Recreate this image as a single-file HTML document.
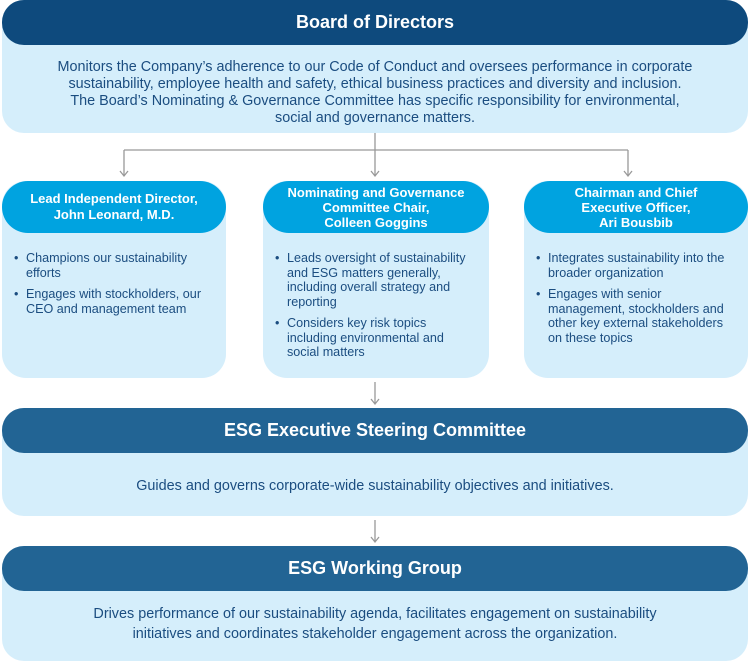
<!DOCTYPE html>
<html><head><meta charset="utf-8"><style>
*{margin:0;padding:0;box-sizing:border-box}
body{width:750px;height:656px;background:#fff;position:relative;font-family:"Liberation Sans",sans-serif;color:#1b4d80;overflow:hidden}
.a{position:absolute}
.lt{background:#d5eefb}
.hd{color:#fff;font-weight:bold;display:flex;align-items:center;justify-content:center;text-align:center}
.ctr{text-align:center;font-size:14.4px;line-height:17px;white-space:nowrap}
ul{list-style:none;font-size:12.6px;line-height:14.5px;white-space:nowrap}
li{position:relative;padding-left:12px;margin-bottom:7px}
li:before{content:"•";position:absolute;left:0}
</style></head><body>
<div class="a lt" style="left:2px;top:0;width:746px;height:133px;border-radius:22px"></div>
<div class="a hd" style="left:2px;top:0;width:746px;height:45px;border-radius:22px;background:#0e4a7d;font-size:18px">Board of Directors</div>
<div class="a ctr" style="left:0;top:59px;width:750px">Monitors the Company’s adherence to our Code of Conduct and oversees performance in corporate<br>sustainability, employee health and safety, ethical business practices and diversity and inclusion.<br>The Board’s Nominating &amp; Governance Committee has specific responsibility for environmental,<br>social and governance matters.</div>

<svg class="a" style="left:0;top:0" width="750" height="656">
<g stroke="#999" stroke-width="1.3" fill="none">
<path d="M375 133V176M124 150H628M124 150V176M628 150V176"/>
<path d="M120 171L124 176L128 171M371 171L375 176L379 171M624 171L628 176L632 171"/>
<path d="M375 382V404M371 399L375 404L379 399"/>
<path d="M375 520V542M371 537L375 542L379 537"/>
</g></svg>

<div class="a lt" style="left:2px;top:181px;width:224px;height:197px;border-radius:24px"></div>
<div class="a hd" style="left:2px;top:181px;width:224px;height:52px;border-radius:26px;background:#00a3e0;font-size:13px;line-height:16px">Lead Independent Director,<br>John Leonard, M.D.</div>
<ul class="a" style="left:14px;top:251px"><li>Champions our sustainability<br>efforts</li><li>Engages with stockholders, our<br>CEO and management team</li></ul>

<div class="a lt" style="left:263px;top:181px;width:226px;height:197px;border-radius:24px"></div>
<div class="a hd" style="left:263px;top:181px;width:226px;height:52px;border-radius:26px;background:#00a3e0;font-size:13px;line-height:15px">Nominating and Governance<br>Committee Chair,<br>Colleen Goggins</div>
<ul class="a" style="left:275px;top:251px"><li>Leads oversight of sustainability<br>and ESG matters generally,<br>including overall strategy and<br>reporting</li><li>Considers key risk topics<br>including environmental and<br>social matters</li></ul>

<div class="a lt" style="left:524px;top:181px;width:224px;height:197px;border-radius:24px"></div>
<div class="a hd" style="left:524px;top:181px;width:224px;height:52px;border-radius:26px;background:#00a3e0;font-size:13px;line-height:15px">Chairman and Chief<br>Executive Officer,<br>Ari Bousbib</div>
<ul class="a" style="left:536px;top:251px"><li>Integrates sustainability into the<br>broader organization</li><li>Engages with senior<br>management, stockholders and<br>other key external stakeholders<br>on these topics</li></ul>

<div class="a lt" style="left:2px;top:408px;width:746px;height:108px;border-radius:22px"></div>
<div class="a hd" style="left:2px;top:408px;width:746px;height:45px;border-radius:22px;background:#226494;font-size:18px">ESG Executive Steering Committee</div>
<div class="a ctr" style="left:0;top:478px;width:750px">Guides and governs corporate-wide sustainability objectives and initiatives.</div>

<div class="a lt" style="left:2px;top:546px;width:746px;height:115px;border-radius:22px"></div>
<div class="a hd" style="left:2px;top:546px;width:746px;height:45px;border-radius:22px;background:#226494;font-size:18px">ESG Working Group</div>
<div class="a ctr" style="left:0;top:604px;width:750px;line-height:20px">Drives performance of our sustainability agenda, facilitates engagement on sustainability<br>initiatives and coordinates stakeholder engagement across the organization.</div>
</body></html>
